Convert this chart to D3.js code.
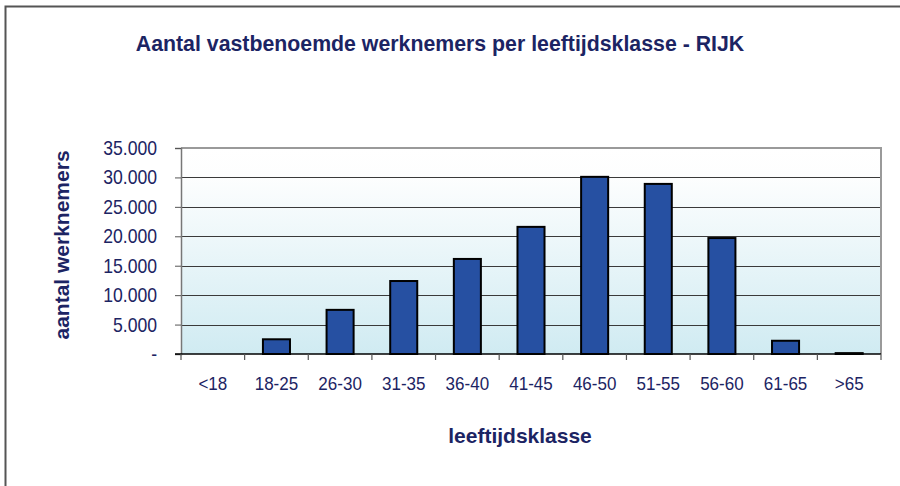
<!DOCTYPE html>
<html><head><meta charset="utf-8">
<script src="https://cdn.jsdelivr.net/npm/d3@7/dist/d3.min.js"></script>
<style>body{margin:0;background:#fff}svg{display:block}</style>
</head><body>
<svg id="c" width="900" height="486"></svg>
<script>
const categories = ["<18","18-25","26-30","31-35","36-40","41-45","46-50","51-55","56-60","61-65",">65"];
const values = [0, 2500, 7500, 12400, 16150, 21600, 30100, 28900, 19700, 2250, 150];
const yTicks = [0,5000,10000,15000,20000,25000,30000,35000];
const yTickLabels = ["-","5.000","10.000","15.000","20.000","25.000","30.000","35.000"];
const title = "Aantal vastbenoemde werknemers per leeftijdsklasse - RIJK";
const xTitle = "leeftijdsklasse";
const yTitle = "aantal werknemers";

const svg = d3.select("#c");
const navy = "#1c2463";
const font = "Arial, 'Liberation Sans', sans-serif";
const L=181, R=881, T=148, B=354;

const defs = svg.append("defs");
const g = defs.append("linearGradient").attr("id","bg").attr("x1",0).attr("y1",0).attr("x2",0).attr("y2",1);
g.append("stop").attr("offset","0%").attr("stop-color","#ffffff");
g.append("stop").attr("offset","14%").attr("stop-color","#fdfefe");
g.append("stop").attr("offset","100%").attr("stop-color","#d0ebf2");

// outer frame
svg.append("path").attr("d","M5.5,486 L5.5,6.5 L900,6.5").attr("fill","none").attr("stroke","#555").attr("stroke-width",2);

const x = d3.scaleBand().domain(categories).range([L,R]).paddingInner(0.575).paddingOuter(0.2875);
const y = d3.scaleLinear().domain([0,35000]).range([B,T]);

svg.append("rect").attr("x",L).attr("y",T).attr("width",R-L).attr("height",B-T).attr("fill","url(#bg)");

// gridlines
svg.append("g").selectAll("line").data(yTicks.filter(d=>d>0 && d<35000)).join("line")
  .attr("x1",L).attr("x2",R).attr("y1",d=>Math.round(y(d))+0.5).attr("y2",d=>Math.round(y(d))+0.5)
  .attr("stroke","#3a3a3a").attr("stroke-width",1.2);

// plot border top/right
svg.append("path").attr("d",`M${L},${T} L${R},${T} L${R},${B}`).attr("fill","none").attr("stroke","#9a9a9a").attr("stroke-width",2);

// bars
const barData = values.map((v,i)=>({c:categories[i], v})).filter(d=>d.v>0);
svg.append("g").selectAll("rect").data(barData).join("rect")
  .attr("x",d=>x(d.c))
  .attr("y",d=>y(d.v))
  .attr("width",x.bandwidth())
  .attr("height",d=>B-y(d.v))
  .attr("fill","#2650a2").attr("stroke","#000").attr("stroke-width",2);

// y axis
const yAxis = d3.axisLeft(y).tickValues(yTicks).tickFormat(()=>"").tickSize(6);
const ya = svg.append("g").attr("transform",`translate(${L},0)`).call(yAxis);
ya.select(".domain").attr("stroke","#777").attr("stroke-width",1.5);
ya.selectAll(".tick line").attr("stroke","#555");
svg.append("g").selectAll("text").data(yTicks).join("text")
  .attr("transform",d=>`translate(157,${y(d)+7}) scale(0.88,1)`)
  .attr("text-anchor","end").attr("fill",navy).attr("font-family",font).attr("font-size",20)
  .text((d,i)=>yTickLabels[i]);

// x axis
const step = x.step();
const xb = svg.append("g").attr("transform",`translate(0,${B})`);
xb.append("line").attr("x1",L-6).attr("x2",R).attr("y1",0).attr("y2",0).attr("stroke","#000").attr("stroke-width",1.5);
const bounds = d3.range(categories.length+1).map(i=> L + i*step);
xb.selectAll(".tk").data(bounds).join("line").attr("class","tk")
  .attr("x1",d=>d).attr("x2",d=>d).attr("y1",0).attr("y2",6).attr("stroke","#555").attr("stroke-width",1.2);
xb.selectAll("text").data(categories).join("text")
  .attr("transform",d=>`translate(${x(d)+x.bandwidth()/2},36) scale(0.92,1)`)
  .attr("text-anchor","middle").attr("fill",navy).attr("font-family",font).attr("font-size",18.5)
  .text(d=>d);

// titles
svg.append("text").attr("x",440).attr("y",51).attr("text-anchor","middle").attr("fill",navy)
  .attr("font-family",font).attr("font-weight","bold").attr("font-size",21.3).text(title);
svg.append("text").attr("x",520).attr("y",443).attr("text-anchor","middle").attr("fill",navy)
  .attr("font-family",font).attr("font-weight","bold").attr("font-size",21).text(xTitle);
svg.append("text").attr("transform","translate(69,245) rotate(-90)").attr("text-anchor","middle").attr("fill",navy)
  .attr("font-family",font).attr("font-weight","bold").attr("font-size",21).text(yTitle);
</script>
</body></html>
